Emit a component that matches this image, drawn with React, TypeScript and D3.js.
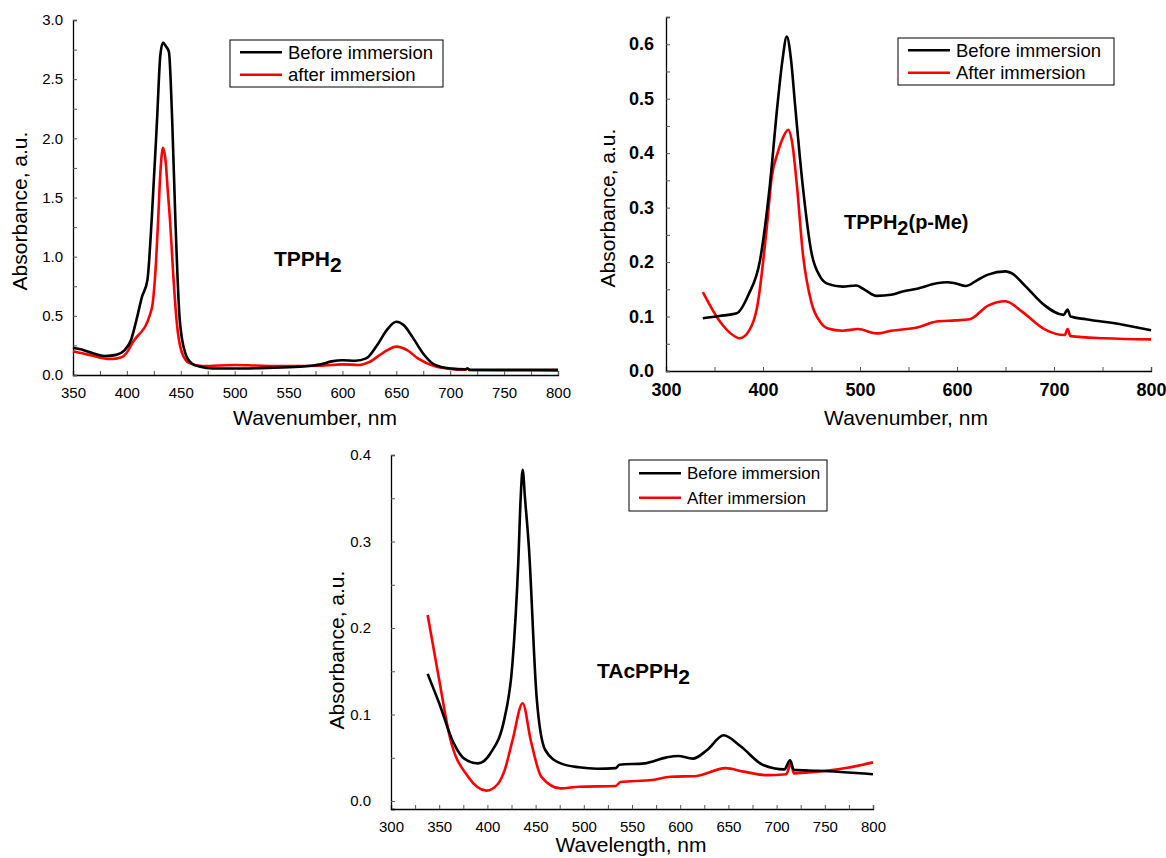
import React, { useEffect, useRef } from 'react';
import * as d3 from 'd3';

// spectra, [wavelength nm, absorbance a.u.]
const tpphBefore: [number, number][] = [
  [350, 0.23], [360, 0.21], [370, 0.18], [380, 0.16], [390, 0.17], [398, 0.21], [404, 0.30],
  [409, 0.47], [414, 0.66], [419, 0.80], [423, 1.31], [428, 2.16], [431, 2.70], [433.5, 2.81],
  [436, 2.78], [439, 2.73], [442, 2.16], [445, 1.31], [449, 0.47], [454, 0.19], [460, 0.10],
  [468, 0.07], [480, 0.055], [500, 0.055], [530, 0.06], [560, 0.07], [580, 0.09], [590, 0.115],
  [600, 0.125], [612, 0.12], [622, 0.14], [632, 0.25], [642, 0.39], [650, 0.45], [657, 0.42],
  [665, 0.32], [675, 0.18], [685, 0.09], [700, 0.055], [714, 0.048], [716, 0.055], [718, 0.045],
  [750, 0.045], [800, 0.045],
];
const tpphAfter: [number, number][] = [
  [350, 0.20], [365, 0.17], [385, 0.135], [395, 0.15], [400, 0.19], [405, 0.27], [409, 0.32],
  [413, 0.36], [417, 0.41], [421, 0.50], [424, 0.61], [427, 0.95], [429, 1.31], [431, 1.70],
  [433.5, 1.92], [436, 1.80], [438, 1.55], [440, 1.31], [443, 0.85], [446, 0.47], [451, 0.19],
  [458, 0.10], [470, 0.075], [500, 0.085], [520, 0.08], [550, 0.075], [580, 0.078], [600, 0.09],
  [615, 0.085], [625, 0.11], [638, 0.19], [650, 0.24], [660, 0.21], [670, 0.14], [685, 0.075],
  [700, 0.052], [714, 0.045], [716, 0.055], [718, 0.04], [760, 0.038], [800, 0.037],
];

const meBefore: [number, number][] = [
  [338, 0.097], [355, 0.101], [373, 0.106], [385, 0.14], [397, 0.204], [407, 0.34], [415, 0.49],
  [420, 0.57], [424.5, 0.614], [429, 0.57], [433, 0.49], [441, 0.34], [450, 0.217], [459, 0.173],
  [467, 0.16], [482, 0.155], [496, 0.157], [505, 0.149], [517, 0.138], [532, 0.14], [544, 0.146],
  [559, 0.151], [579, 0.161], [590, 0.163], [598, 0.161], [609, 0.156], [621, 0.167], [632, 0.177],
  [650, 0.183], [656, 0.18], [671, 0.155], [690, 0.121], [710, 0.103], [714, 0.113], [717, 0.1],
  [733, 0.095], [771, 0.085], [800, 0.075],
];
const meAfter: [number, number][] = [
  [338, 0.145], [356, 0.09], [366, 0.07], [376, 0.06], [386, 0.075], [394, 0.118], [404, 0.265],
  [409, 0.356], [415, 0.40], [421, 0.43], [426, 0.443], [430, 0.42], [435, 0.34], [441, 0.217],
  [450, 0.125], [459, 0.09], [467, 0.078], [482, 0.074], [498, 0.077], [517, 0.069], [532, 0.074],
  [559, 0.08], [579, 0.091], [598, 0.093], [613, 0.095], [632, 0.12], [650, 0.128], [667, 0.109],
  [690, 0.077], [711, 0.066], [714, 0.077], [717, 0.064], [752, 0.06], [800, 0.058],
];

const acBefore: [number, number][] = [
  [338, 0.147], [350, 0.113], [365, 0.067], [376, 0.049], [390, 0.0435], [403, 0.055], [418, 0.097],
  [426, 0.159], [432, 0.275], [434.5, 0.35], [436.6, 0.383], [439, 0.35], [443, 0.294], [451, 0.121],
  [460, 0.059], [476, 0.0435], [495, 0.039], [514, 0.0374], [533, 0.038], [537, 0.042], [563, 0.0435],
  [586, 0.0505], [598, 0.052], [613, 0.049], [628, 0.059], [645, 0.076], [663, 0.063], [686, 0.0416],
  [708, 0.0366], [714, 0.047], [718, 0.036], [743, 0.035], [800, 0.031],
];
const acAfter: [number, number][] = [
  [338, 0.215], [350, 0.14], [361, 0.074], [380, 0.028], [399, 0.012], [411, 0.020], [418, 0.036],
  [426, 0.07], [436.6, 0.113], [445, 0.07], [456, 0.028], [476, 0.0146], [495, 0.0166], [533, 0.0173],
  [538, 0.022], [571, 0.0243], [590, 0.028], [617, 0.029], [647, 0.038], [666, 0.034], [689, 0.030],
  [710, 0.031], [714.7, 0.0435], [718, 0.032], [743, 0.034], [770, 0.0378], [800, 0.0447],
];

const legend1 = ['Before immersion', 'after immersion'];
const legend2 = ['Before immersion', 'After immersion'];

const W = 1166;
const H = 858;
const FONT = '"Liberation Sans", Arial, sans-serif';

type Panel = {
  x0: number; x1: number; y0: number; y1: number;
  xDom: [number, number]; yDom: [number, number];
  xMajor: number; xMinor: number; yMajor: number; yMinor: number;
  yFmt: string; tickSize: number; bold: boolean;
  xPad: number; yPad: number;
  before: [number, number][]; after: [number, number][];
  legend: string[]; leg: { x: number; y: number; w: number; h: number; fs: number };
  title: string; titleTail: string; tx: number; ty: number; tfs: number;
  xLabel: string; xlx: number; xly: number; ylx: number; yly: number; lfs: number;
};

const panels: Panel[] = [
  {
    x0: 73, x1: 558, y0: 375, y1: 20, xDom: [350, 800], yDom: [0, 3],
    xMajor: 50, xMinor: 25, yMajor: 0.5, yMinor: 0.25, yFmt: '.1f', tickSize: 15, bold: false,
    xPad: 12, yPad: 10, before: tpphBefore, after: tpphAfter, legend: legend1,
    leg: { x: 230, y: 40, w: 213, h: 47, fs: 18.5 },
    title: 'TPPH', titleTail: '', tx: 274, ty: 266, tfs: 21,
    xLabel: 'Wavenumber, nm', xlx: 315, xly: 425, ylx: 19, yly: 211, lfs: 21,
  },
  {
    x0: 666, x1: 1151, y0: 371, y1: 17, xDom: [300, 800], yDom: [0, 0.65],
    xMajor: 100, xMinor: 50, yMajor: 0.1, yMinor: 0.05, yFmt: '.1f', tickSize: 18, bold: true,
    xPad: 12, yPad: 12, before: meBefore, after: meAfter, legend: legend2,
    leg: { x: 898, y: 38, w: 216, h: 47, fs: 18.5 },
    title: 'TPPH', titleTail: '(p-Me)', tx: 844, ty: 229, tfs: 20,
    xLabel: 'Wavenumber, nm', xlx: 906, xly: 425, ylx: 607, yly: 208, lfs: 21,
  },
  {
    x0: 391, x1: 873, y0: 809, y1: 455, xDom: [300, 800], yDom: [-0.0092, 0.4],
    xMajor: 50, xMinor: 25, yMajor: 0.1, yMinor: 0.05, yFmt: '.1f', tickSize: 15, bold: false,
    xPad: 12, yPad: 20, before: acBefore, after: acAfter, legend: legend2,
    leg: { x: 629, y: 460, w: 198, h: 51, fs: 17 },
    title: 'TAcPPH', titleTail: '', tx: 597, ty: 678, tfs: 21,
    xLabel: 'Wavelength, nm', xlx: 631, xly: 852, ylx: 336, yly: 650, lfs: 21,
  },
];

function drawPanel(svg: d3.Selection<SVGSVGElement, unknown, null, undefined>, p: Panel) {
  const x = d3.scaleLinear().domain(p.xDom).range([p.x0, p.x1]);
  const y = d3.scaleLinear().domain(p.yDom).range([p.y0, p.y1]);
  const g = svg.append('g');
  const eps = 1e-6;

  const xTicks = d3.range(p.xDom[0], p.xDom[1] + eps, p.xMinor);
  const yTicks = d3.range(Math.max(0, p.yDom[0]), p.yDom[1] + eps, p.yMinor);

  const xAxis = d3.axisBottom(x)
    .tickValues(xTicks)
    .tickSize(-4)
    .tickPadding(p.xPad)
    .tickFormat((d) => (Math.abs((+d) % p.xMajor) < eps ? String(d) : ''));
  const yAxis = d3.axisLeft(y)
    .tickValues(yTicks)
    .tickSize(-4)
    .tickPadding(p.yPad)
    .tickFormat((d) => {
      const r = (+d) / p.yMajor;
      return Math.abs(r - Math.round(r)) < 1e-4 ? d3.format(p.yFmt)(+d) : '';
    });

  const gx = g.append('g').attr('transform', `translate(0,${p.y0})`).call(xAxis);
  const gy = g.append('g').attr('transform', `translate(${p.x0},0)`).call(yAxis);
  [gx, gy].forEach((ax) => {
    ax.select('.domain').attr('stroke', '#000').attr('stroke-width', 1.3);
    ax.selectAll('.tick line').attr('stroke', '#555').attr('stroke-width', 1);
    ax.selectAll('.tick text')
      .attr('fill', '#000')
      .style('font-family', FONT)
      .style('font-size', `${p.tickSize}px`)
      .style('font-weight', p.bold ? 'bold' : 'normal');
  });

  const line = d3.line<[number, number]>()
    .x((d) => x(d[0]))
    .y((d) => y(d[1]))
    .curve(d3.curveMonotoneX);

  g.append('path').datum(p.after).attr('d', line).attr('fill', 'none')
    .attr('stroke', '#ff0000').attr('stroke-width', 2.6).attr('stroke-linejoin', 'round');
  g.append('path').datum(p.before).attr('d', line).attr('fill', 'none')
    .attr('stroke', '#000').attr('stroke-width', 2.6).attr('stroke-linejoin', 'round');

  // legend
  const L = p.leg;
  const lg = g.append('g');
  lg.append('rect').attr('x', L.x).attr('y', L.y).attr('width', L.w).attr('height', L.h)
    .attr('fill', '#fff').attr('stroke', '#000').attr('stroke-width', 1);
  const colors = ['#000', '#ff0000'];
  p.legend.forEach((t, i) => {
    const ly = L.y + L.h * (i === 0 ? 0.26 : 0.74);
    lg.append('line').attr('x1', L.x + 10).attr('x2', L.x + 52).attr('y1', ly).attr('y2', ly)
      .attr('stroke', colors[i]).attr('stroke-width', 2.6);
    lg.append('text').attr('x', L.x + 58).attr('y', ly).attr('dy', '0.36em')
      .style('font-family', FONT).style('font-size', `${L.fs}px`).text(t);
  });

  // compound label
  const tt = g.append('text').attr('x', p.tx).attr('y', p.ty)
    .style('font-family', FONT).style('font-weight', 'bold').style('font-size', `${p.tfs}px`);
  tt.append('tspan').text(p.title);
  tt.append('tspan').attr('dy', p.tfs * 0.3).text('2');
  if (p.titleTail) tt.append('tspan').attr('dy', -p.tfs * 0.3).text(p.titleTail);

  // axis titles
  g.append('text').attr('x', p.xlx).attr('y', p.xly).attr('text-anchor', 'middle')
    .style('font-family', FONT).style('font-size', `${p.lfs}px`).text(p.xLabel);
  g.append('text').attr('transform', `translate(${p.ylx},${p.yly}) rotate(-90)`)
    .attr('text-anchor', 'middle').attr('dy', '0.36em')
    .style('font-family', FONT).style('font-size', `${p.lfs}px`).text('Absorbance, a.u.');
}

export default function App() {
  const svgRef = useRef<SVGSVGElement>(null);

  useEffect(() => {
    const svg = d3.select(svgRef.current as SVGSVGElement);
    svg.selectAll('*').remove();
    panels.forEach((p) => drawPanel(svg, p));
  }, []);

  return (
    <div style={{ position: 'absolute', left: 0, top: 0, width: W, height: H, background: '#fff' }}>
      <svg ref={svgRef} width={W} height={H} style={{ display: 'block' }} />
    </div>
  );
}
